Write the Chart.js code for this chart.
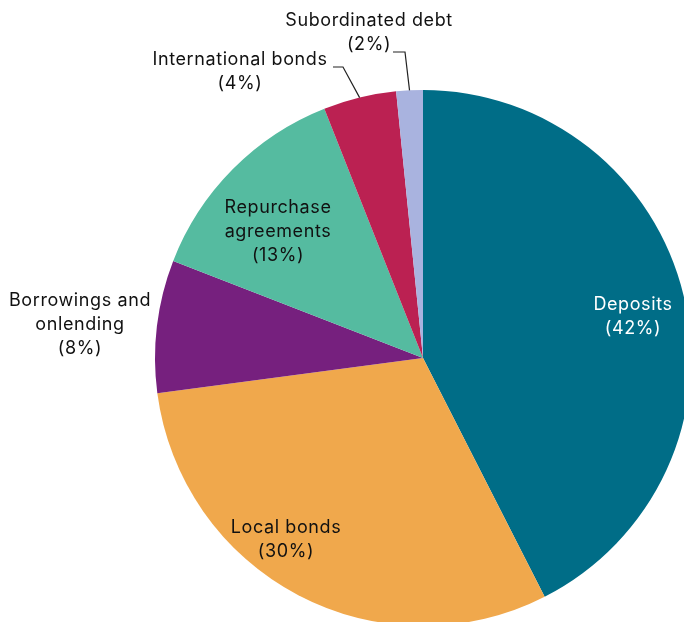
<!DOCTYPE html>
<html>
<head>
<meta charset="utf-8">
<script src="https://cdn.jsdelivr.net/npm/chart.js@4"></script>
<style>
  html, body { margin: 0; padding: 0; background: #fff; overflow: hidden; }
  #wrap { width: 684px; height: 622px; overflow: hidden; position: relative; }
  canvas { position: absolute; left: 0; top: 0; }
</style>
</head>
<body>
<div id="wrap"><canvas id="fundingChart" width="700" height="640"></canvas></div>
<script>
var categories = ['Deposits', 'Local bonds', 'Borrowings and onlending', 'Repurchase agreements', 'International bonds', 'Subordinated debt'];
var shares = [42.5, 30.4, 8.0, 13.1, 4.4, 1.6];
var shareLabels = ['(42%)', '(30%)', '(8%)', '(13%)', '(4%)', '(2%)'];
var sliceColors = ['#006d87', '#f0a84c', '#76207e', '#55bba0', '#bb2152', '#a9b3df'];

// where each label sits, text lines and optional leader elbow
var labelSpots = [
  { x: 633, y: 305, lines: ['Deposits'], color: '#fff' },
  { x: 286, y: 528, lines: ['Local bonds'], color: '#111' },
  { x: 80, y: 301, lines: ['Borrowings and', 'onlending'], color: '#111' },
  { x: 278, y: 208, lines: ['Repurchase', 'agreements'], color: '#111' },
  { x: 240, y: 60, lines: ['International bonds'], color: '#111', elbow: [343, 67], end: [333, 67] },
  { x: 369, y: 21, lines: ['Subordinated debt'], color: '#111', elbow: [405, 52], end: [393, 52] }
];

var pieLabels = {
  id: 'pieLabels',
  afterDraw: function(chart) {
    var ctx = chart.ctx;
    var arcs = chart.getDatasetMeta(0).data;
    ctx.save();
    ctx.font = '18px Inter, "Noto Sans", sans-serif';
    ctx.letterSpacing = '0.6px';
    ctx.textAlign = 'center';
    ctx.textBaseline = 'middle';
    labelSpots.forEach(function(spot, i) {
      var lines = spot.lines.concat([shareLabels[i]]);
      ctx.fillStyle = spot.color;
      lines.forEach(function(t, k) {
        ctx.fillText(t, spot.x, spot.y + k * 24);
      });
      if (spot.elbow) {
        var a = arcs[i];
        var mid = (a.startAngle + a.endAngle) / 2;
        var sx = a.x + Math.cos(mid) * a.outerRadius;
        var sy = a.y + Math.sin(mid) * a.outerRadius;
        ctx.strokeStyle = '#222';
        ctx.lineWidth = 1.2;
        ctx.beginPath();
        ctx.moveTo(sx, sy);
        ctx.lineTo(spot.elbow[0], spot.elbow[1]);
        ctx.lineTo(spot.end[0], spot.end[1]);
        ctx.stroke();
      }
    });
    ctx.restore();
  }
};

new Chart(document.getElementById('fundingChart').getContext('2d'), {
  type: 'pie',
  data: {
    labels: categories,
    datasets: [{
      data: shares,
      backgroundColor: sliceColors,
      borderWidth: 0,
      hoverOffset: 0
    }]
  },
  options: {
    responsive: false,
    animation: false,
    layout: { padding: { left: 155, top: 90, right: 9, bottom: 14 } },
    plugins: {
      legend: { display: false },
      tooltip: { enabled: false }
    }
  },
  plugins: [pieLabels]
});
</script>
</body>
</html>
